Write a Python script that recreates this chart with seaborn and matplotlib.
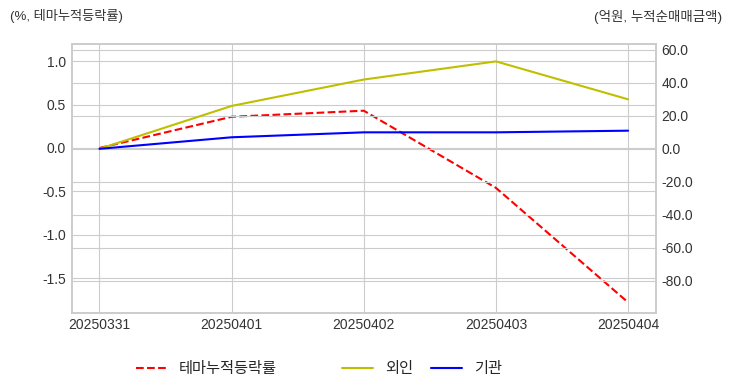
import matplotlib
matplotlib.use("Agg")
import matplotlib.pyplot as plt
import seaborn as sns
import pandas as pd

dates = ["20250331", "20250401", "20250402", "20250403", "20250404"]
theme_rate = [0.0, 0.36, 0.43, -0.46, -1.78]
foreign = [0.0, 26.0, 42.0, 53.0, 30.0]
institution = [0.0, 7.0, 10.0, 10.0, 11.0]
left_ticks = [1.0, 0.5, 0.0, -0.5, -1.0, -1.5]
right_ticks = [60.0, 40.0, 20.0, 0.0, -20.0, -40.0, -60.0, -80.0]

sns.set_style("whitegrid")
plt.rcParams["font.family"] = ["Liberation Sans", "Noto Sans CJK KR", "DejaVu Sans"]
plt.rcParams["axes.unicode_minus"] = False

df = pd.DataFrame({"date": dates, "theme": theme_rate, "foreign": foreign, "inst": institution})
df["x"] = range(len(dates))

fig = plt.figure(figsize=(7.32, 3.92), dpi=100)
ax = fig.add_axes([0.098, 0.202, 0.798, 0.686])
ax2 = ax.twinx()

sns.lineplot(data=df, x="x", y="theme", ax=ax, color="r", linestyle="--", linewidth=1.5, label="테마누적등락률", legend=False)
sns.lineplot(data=df, x="x", y="foreign", ax=ax2, color="y", linewidth=1.5, label="외인", legend=False)
sns.lineplot(data=df, x="x", y="inst", ax=ax2, color="b", linewidth=1.5, label="기관", legend=False)

ax.set_xlim(-0.21, 4.21)
ax.set_ylim(-1.9, 1.2)
ax2.set_ylim(-99.4, 63.6)
ax.set_xticks(df["x"])
ax.set_xticklabels(dates)
ax.set_yticks(left_ticks)
ax.set_yticklabels([f"{v:.1f}" for v in left_ticks])
ax2.set_yticks(right_ticks)
ax2.set_yticklabels([f"{v:.1f}" for v in right_ticks])
ax.set_xlabel("")
ax.set_ylabel("")
ax2.set_ylabel("")
ax2.grid(True, color=".8")
ax.grid(True, color=".8")
for a in (ax, ax2):
    a.tick_params(axis="both", labelsize=10, length=0, pad=4, colors="#333333")
    for s in a.spines.values():
        s.set_color(".8")
        s.set_linewidth(1.2)

fig.text(10 / 732, 1 - 16 / 392, "(%, 테마누적등락률)", fontsize=9.5, color="#333333", va="center", ha="left")
fig.text(722 / 732, 1 - 17 / 392, "(억원, 누적순매매금액)", fontsize=9.7, color="#333333", va="center", ha="right")

h1, l1 = ax.get_legend_handles_labels()
h2, l2 = ax2.get_legend_handles_labels()
leg1 = fig.legend(h1, l1, loc="center", bbox_to_anchor=(206 / 732, 1 - 369 / 392), frameon=False, fontsize=11)
leg2 = fig.legend(h2, l2, loc="center", bbox_to_anchor=(422 / 732, 1 - 369 / 392), frameon=False, fontsize=11, ncol=2, columnspacing=1.2)

fig.savefig("out.png", dpi=100)
